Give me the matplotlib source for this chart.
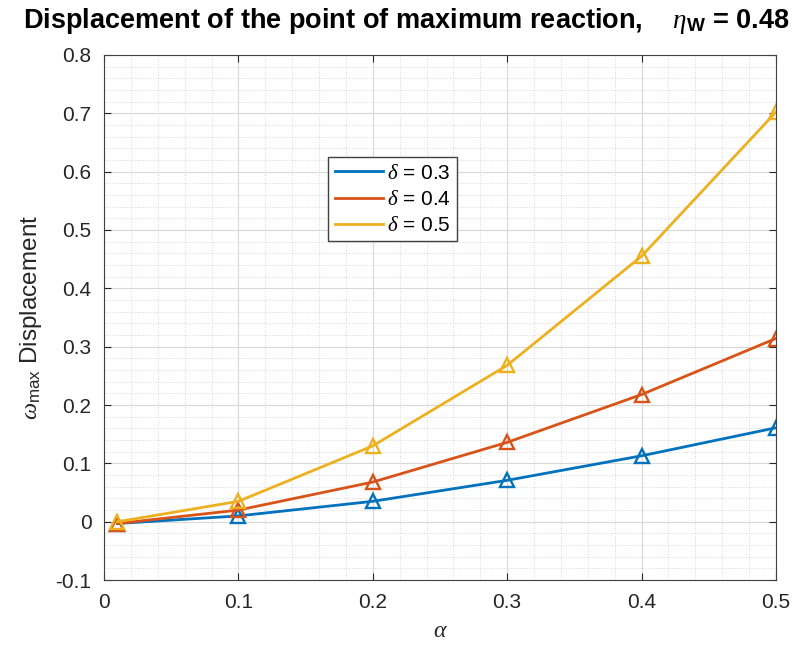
import numpy as np
import matplotlib
matplotlib.use('Agg')
import matplotlib.pyplot as plt
from matplotlib.ticker import MultipleLocator

plt.rcParams['font.family'] = ['Liberation Sans', 'DejaVu Sans']
plt.rcParams['mathtext.fontset'] = 'custom'
plt.rcParams['mathtext.rm'] = 'Liberation Sans'
plt.rcParams['mathtext.it'] = 'Liberation Serif:italic'
plt.rcParams['mathtext.bf'] = 'Liberation Sans:bold'

# datos
alfa = [0.01, 0.1, 0.2, 0.3, 0.4, 0.5]
delta03 = [-0.003, 0.010, 0.035, 0.071, 0.113, 0.161]
delta04 = [-0.003, 0.020, 0.068, 0.136, 0.218, 0.314]
delta05 = [0.000, 0.035, 0.130, 0.268, 0.455, 0.702]
etiquetas = ['$\\delta$ = 0.3', '$\\delta$ = 0.4', '$\\delta$ = 0.5']
colores = ['#0072BD', '#D95319', '#EDB120']

fig = plt.figure(figsize=(7.97, 6.46), dpi=100)
ax = fig.add_axes([0.1305, 0.102, 0.843, 0.813])

for serie, lab, col in zip([delta03, delta04, delta05], etiquetas, colores):
    ax.plot(alfa, serie, color=col, lw=2, label=lab)
    ax.plot(alfa, serie, ls='none', marker='^', ms=9.5, mfc='none', mec=col, mew=1.7)

ax.set_xlim(0, 0.5)
ax.set_ylim(-0.1, 0.8)
ax.xaxis.set_minor_locator(MultipleLocator(0.02))
ax.yaxis.set_minor_locator(MultipleLocator(0.02))
ax.set_xticks([0, 0.1, 0.2, 0.3, 0.4, 0.5])
ax.set_xticklabels(['0', '0.1', '0.2', '0.3', '0.4', '0.5'])
ax.set_yticks([-0.1, 0, 0.1, 0.2, 0.3, 0.4, 0.5, 0.6, 0.7, 0.8])
ax.set_yticklabels(['-0.1', '0', '0.1', '0.2', '0.3', '0.4', '0.5', '0.6', '0.7', '0.8'])

ax.grid(True, which='major', color='#d8d8d8', lw=0.8)
ax.grid(True, which='minor', color='#d8d8d8', lw=0.7, ls=':')
ax.set_axisbelow(True)
ax.tick_params(which='both', direction='in', top=True, right=True, colors='#262626',
               labelsize=15, length=5, pad=9)
ax.tick_params(which='minor', length=0)
for s in ax.spines.values():
    s.set_color('#404040')
    s.set_linewidth(0.8)

ax.set_xlabel('$\\alpha$', fontsize=17, color='#262626', labelpad=6)
ax.set_ylabel('$\\omega_{\\mathrm{max}}$ Displacement', fontsize=17.5, color='#262626', labelpad=8)
fig.text(0.51, 0.957, 'Displacement of the point of maximum reaction,    $\\eta_{\\mathbf{W}}$ = 0.48',
         fontsize=19.5, fontweight='bold', ha='center', va='baseline')

leg = ax.legend(loc='upper left', bbox_to_anchor=(0.334, 0.805), fontsize=15,
                handlelength=2.3, handletextpad=0.2, borderaxespad=0, fancybox=False,
                framealpha=1, edgecolor='#404040', borderpad=0.3, labelspacing=0.35)
leg.get_frame().set_linewidth(1)

plt.savefig('out.png', dpi=100)
